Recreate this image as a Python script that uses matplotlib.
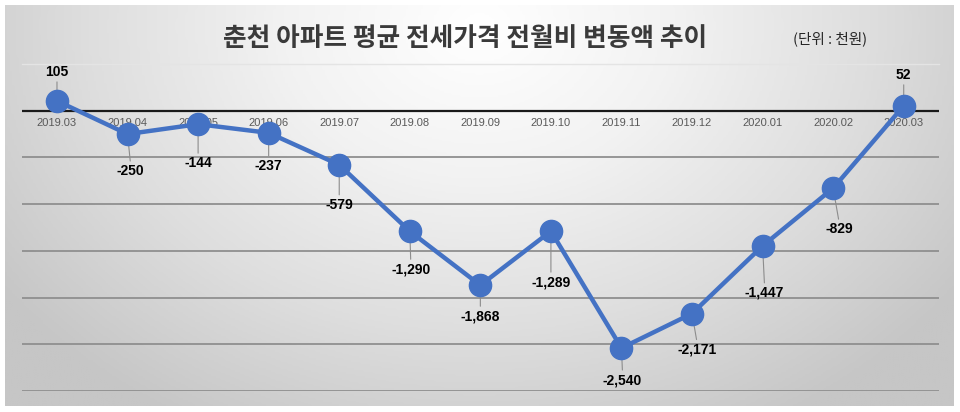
import numpy as np
import matplotlib.pyplot as plt
from matplotlib.colors import LinearSegmentedColormap

plt.rcParams['font.family'] = ['Noto Sans CJK KR', 'DejaVu Sans']

# data (unit: 1,000 KRW)
months = ['2019.03', '2019.04', '2019.05', '2019.06', '2019.07', '2019.08',
          '2019.09', '2019.10', '2019.11', '2019.12', '2020.01', '2020.02',
          '2020.03']
change = [105, -250, -144, -237, -579, -1290, -1868, -1289, -2540, -2171,
          -1447, -829, 52]
title = '춘천 아파트 평균 전세가격 전월비 변동액 추이'
unit = '(단위 : 천원)'

# label offsets in pixels (dx, dy, screen up = positive)
label_offsets = [(0, 29), (3, -37), (0, -39), (0, -33), (0, -40), (1, -38),
                 (0, -31), (0, -51), (1, -32), (5, -36), (2, -47), (6, -41),
                 (0, 31)]

W, H = 960, 412
fig = plt.figure(figsize=(W / 100, H / 100), dpi=100)
fig.patch.set_facecolor('white')

# gradient background panel
bg = fig.add_axes([5 / W, 1 - 406 / H, 948 / W, 401 / H])
bg.set_axis_off()
yy, xx = np.mgrid[0:1:200j, 0:1:400j]
dist = np.sqrt(((xx - 0.5) / 0.62) ** 2 + ((yy - 0.05) / 1.15) ** 2)
dist = np.clip(dist, 0, 1)
cmap = LinearSegmentedColormap.from_list('bg', ['#ffffff', '#f2f2f2', '#dedede', '#c6c6c6'])
bg.imshow(dist, cmap=cmap, aspect='auto', extent=[0, 1, 0, 1], origin='upper',
          vmin=0, vmax=1)
bg.set_xlim(0, 1)
bg.set_ylim(0, 1)

ax = fig.add_axes([21.7 / W, 1 - 391 / H, (939 - 21.7) / W, (391 - 64) / H])
ax.patch.set_alpha(0)
x = np.arange(len(months))
ax.set_xlim(-0.5, len(months) - 0.5)
ax.set_ylim(-3000, 500)
for s in ax.spines.values():
    s.set_visible(False)
ax.set_xticks([])
ax.set_yticks([])

for g in np.arange(-3000, 1, 500):
    if g == 0:
        continue
    ax.axhline(g, color='#8f8f8f', lw=1.3, zorder=1)
ax.axhline(500, color='#e4e4e4', lw=1.0, zorder=1, clip_on=False)
ax.axhline(0, color='#1a1a1a', lw=1.6, zorder=1.5)

for i, m in enumerate(months):
    ax.annotate(m, (i, 0), xytext=(0, -12), textcoords='offset pixels',
                ha='center', va='center', fontsize=8, color='#595959',
                family=['Liberation Sans', 'DejaVu Sans'], zorder=1.6)

ax.plot(x, change, color='#4472C4', lw=3.2, marker='o', markersize=16,
        markerfacecolor='#4472C4', markeredgecolor='#4472C4', zorder=3,
        solid_joinstyle='round')

for i, v in enumerate(change):
    dx, dy = label_offsets[i]
    ax.annotate(f'{v:,}', (i, v), xytext=(dx, dy), textcoords='offset pixels',
                ha='center', va='center', fontsize=10, fontweight='bold',
                color='black', zorder=4,
                family=['Liberation Sans', 'DejaVu Sans'])
    end = dy - 10 if dy > 0 else dy + 10
    ax.annotate('', (i, v), xytext=(dx * 0.9, end), textcoords='offset pixels',
                arrowprops=dict(arrowstyle='-', color='#8c8c8c', lw=0.8,
                                shrinkA=0, shrinkB=0), zorder=2.9)

fig.text(465 / W, 1 - 38 / H, title, ha='center', va='center', fontsize=18.5,
         fontweight='bold', color='#3a3a3a')
fig.text(830 / W, 1 - 39 / H, unit, ha='center', va='center', fontsize=10.5,
         color='#262626')

fig.savefig('out.png', dpi=100)
